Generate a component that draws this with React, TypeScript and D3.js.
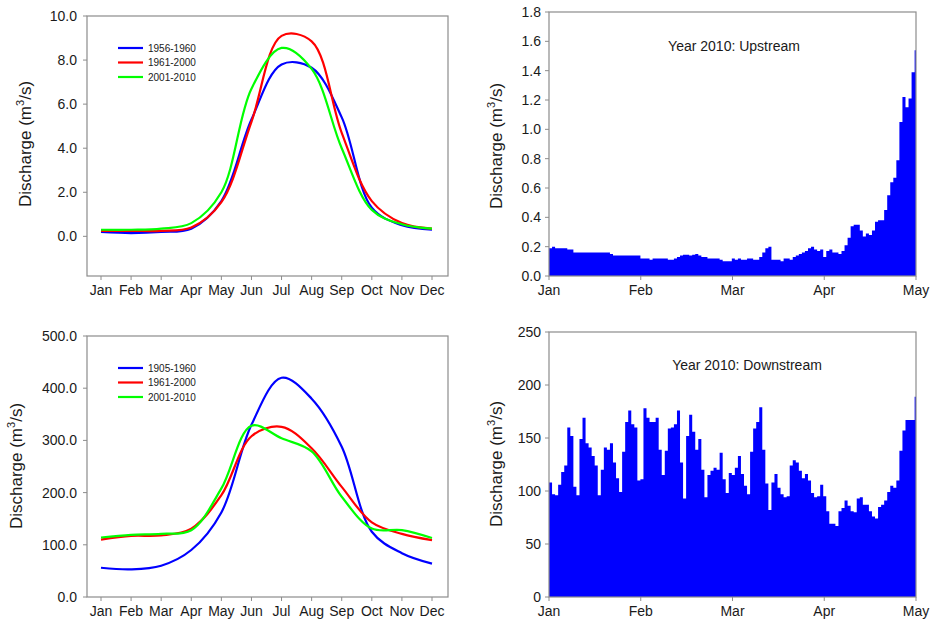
import React from "react";
import * as d3 from "d3";

// ---------- data ----------
const months = ["Jan", "Feb", "Mar", "Apr", "May", "Jun", "Jul", "Aug", "Sep", "Oct", "Nov", "Dec"];

const topSeriesNames = ["1956-1960", "1961-2000", "2001-2010"];
const top1956_1960 = [0.2, 0.15, 0.2, 0.35, 1.6, 5.3, 7.8, 7.65, 5.4, 1.3, 0.5, 0.3];
const top1961_2000 = [0.25, 0.25, 0.25, 0.4, 1.55, 5.2, 9.1, 8.85, 4.7, 1.6, 0.6, 0.35];
const top2001_2010 = [0.3, 0.3, 0.35, 0.6, 2.0, 6.7, 8.55, 7.6, 4.0, 1.2, 0.55, 0.35];
const topYTicks = [0, 2, 4, 6, 8, 10];

const botSeriesNames = ["1905-1960", "1961-2000", "2001-2010"];
const bot1905_1960 = [56, 53, 60, 90, 162, 330, 420, 380, 288, 125, 84, 64];
const bot1961_2000 = [110, 117, 118, 131, 195, 308, 326, 285, 211, 143, 121, 109];
const bot2001_2010 = [114, 119, 121, 128, 208, 328, 304, 279, 192, 131, 128, 113];
const botYTicks = [0, 100, 200, 300, 400, 500];

const dailyMonthTicks = ["Jan", "Feb", "Mar", "Apr", "May"];

const upstream2010 = [
  0.19, 0.2, 0.19, 0.19, 0.19, 0.19, 0.18, 0.18, 0.16, 0.16,
  0.16, 0.16, 0.16, 0.16, 0.16, 0.16, 0.16, 0.16, 0.16, 0.16,
  0.15, 0.14, 0.14, 0.14, 0.14, 0.14, 0.14, 0.14, 0.14, 0.14,
  0.12, 0.12, 0.12, 0.11, 0.12, 0.12, 0.12, 0.12, 0.12, 0.11,
  0.11, 0.12, 0.13, 0.14, 0.145, 0.145, 0.14, 0.145, 0.15, 0.14,
  0.13, 0.13, 0.12, 0.12, 0.12, 0.12, 0.11, 0.1, 0.1, 0.1,
  0.12, 0.11, 0.12, 0.11, 0.11, 0.12, 0.12, 0.11, 0.11, 0.13,
  0.16, 0.19, 0.2, 0.11, 0.11, 0.11, 0.1, 0.12, 0.12, 0.11,
  0.13, 0.14, 0.15, 0.16, 0.17, 0.19, 0.2, 0.18, 0.17, 0.18,
  0.13, 0.17, 0.18, 0.16, 0.16, 0.15, 0.17, 0.21, 0.26, 0.34,
  0.35, 0.35, 0.31, 0.27, 0.29, 0.28, 0.31, 0.37, 0.38, 0.38,
  0.45, 0.55, 0.64, 0.67, 0.79, 1.05, 1.22, 1.15, 1.21, 1.39,
  1.54,
];
const upYTicks = [0, 0.2, 0.4, 0.6, 0.8, 1.0, 1.2, 1.4, 1.6, 1.8];

const downstream2010 = [
  108, 97, 96, 106, 118, 124, 160, 152, 104, 96,
  149, 169, 145, 141, 133, 124, 96, 120, 141, 139,
  145, 127, 112, 99, 137, 165, 176, 163, 160, 110,
  111, 178, 169, 165, 165, 169, 139, 115, 138, 159,
  160, 163, 176, 127, 93, 152, 172, 156, 139, 149,
  120, 94, 115, 119, 122, 120, 136, 111, 98, 117,
  115, 122, 133, 116, 105, 97, 137, 159, 165, 179,
  139, 107, 82, 108, 116, 103, 97, 94, 95, 124,
  129, 127, 119, 112, 116, 110, 98, 94, 95, 106,
  95, 81, 69, 69, 67, 81, 84, 91, 86, 81,
  80, 93, 94, 87, 87, 81, 76, 74, 85, 87,
  91, 99, 105, 103, 110, 138, 157, 167, 167, 167,
  189,
];
const downYTicks = [0, 50, 100, 150, 200, 250];

const seriesColors = ["#0000FF", "#FF0000", "#00FF00"];

// ---------- layout ----------
const FONT = "'Liberation Sans', Arial, sans-serif";
const FRAME = "#8c8c8c";
const TEXT = "#1a1a1a";

function YLabel({ x, y }: { x: number; y: number }) {
  return (
    <text
      transform={`translate(${x},${y}) rotate(-90)`}
      textAnchor="middle"
      fontSize={17}
      fill={TEXT}
      fontFamily={FONT}
    >
      Discharge (m
      <tspan dy={-7} fontSize={11}>3</tspan>
      <tspan dy={7}>/s)</tspan>
    </text>
  );
}

type LineProps = {
  left: number; right: number; top: number; bottom: number;
  yDomain: [number, number]; yTicks: number[];
  series: number[][]; names: string[];
  legendTop: number; labelX: number; labelY: number;
};

function LinePanel(p: LineProps) {
  const x = d3.scaleLinear().domain([0, 11]).range([p.left + 14, p.right - 16]);
  const y = d3.scaleLinear().domain(p.yDomain).range([p.bottom, p.top]);
  const line = d3
    .line<number>()
    .x((_, i) => x(i))
    .y((d) => y(d))
    .curve(d3.curveCatmullRom.alpha(0.5));
  return (
    <g fontFamily={FONT}>
      {p.series.map((s, k) => (
        <path key={k} d={line(s) || ""} fill="none" stroke={seriesColors[k]} strokeWidth={2.2} />
      ))}
      <rect x={p.left} y={p.top} width={p.right - p.left} height={p.bottom - p.top} fill="none" stroke={FRAME} strokeWidth={1.2} />
      {p.yTicks.map((t) => (
        <g key={t}>
          <line x1={p.left - 4} x2={p.left} y1={y(t)} y2={y(t)} stroke={FRAME} />
          <text x={p.left - 10} y={y(t) + 5} textAnchor="end" fontSize={14} fill={TEXT}>
            {d3.format(".1f")(t)}
          </text>
        </g>
      ))}
      {months.map((m, i) => (
        <g key={m}>
          <line x1={x(i)} x2={x(i)} y1={p.bottom} y2={p.bottom + 4} stroke={FRAME} />
          <text x={x(i)} y={p.bottom + 19} textAnchor="middle" fontSize={14} fill={TEXT}>
            {m}
          </text>
        </g>
      ))}
      {p.names.map((n, k) => {
        const ly = p.legendTop + k * 14.5;
        return (
          <g key={n}>
            <line x1={p.left + 31} x2={p.left + 56} y1={ly} y2={ly} stroke={seriesColors[k]} strokeWidth={2.2} />
            <text x={p.left + 61} y={ly + 3.5} fontSize={10} fill={TEXT}>{n}</text>
          </g>
        );
      })}
      <YLabel x={p.labelX} y={p.labelY} />
    </g>
  );
}

type BarProps = {
  id: string;
  left: number; right: number; top: number; bottom: number;
  yDomain: [number, number]; yTicks: number[]; fmt: string;
  values: number[]; title: string; titleY: number; titleX: number;
  labelX: number; labelY: number;
};

function BarPanel(p: BarProps) {
  const n = p.values.length;
  const xd = d3.scaleLinear().domain([0, n - 0.55]).range([p.left, p.right]);
  const xm = d3.scaleLinear().domain([0, dailyMonthTicks.length - 1]).range([p.left, p.right]);
  const y = d3.scaleLinear().domain(p.yDomain).range([p.bottom, p.top]);
  const stepVals = [...p.values, p.values[n - 1]];
  const area = d3
    .area<number>()
    .x((_, i) => xd(i))
    .y0(y(0))
    .y1((d) => y(d))
    .curve(d3.curveStepAfter);
  return (
    <g fontFamily={FONT}>
      <defs>
        <clipPath id={p.id}>
          <rect x={p.left} y={p.top} width={p.right - p.left} height={p.bottom - p.top} />
        </clipPath>
      </defs>
      <g clipPath={`url(#${p.id})`}>
        <path d={area(stepVals) || ""} fill="#0000FF" />
      </g>
      <rect x={p.left} y={p.top} width={p.right - p.left} height={p.bottom - p.top} fill="none" stroke={FRAME} strokeWidth={1.2} />
      {p.yTicks.map((t) => (
        <g key={t}>
          <line x1={p.left - 4} x2={p.left} y1={y(t)} y2={y(t)} stroke={FRAME} />
          <text x={p.left - 8} y={y(t) + 5} textAnchor="end" fontSize={14} fill={TEXT}>
            {d3.format(p.fmt)(t)}
          </text>
        </g>
      ))}
      {dailyMonthTicks.map((m, i) => (
        <g key={m}>
          <line x1={xm(i)} x2={xm(i)} y1={p.bottom} y2={p.bottom + 4} stroke={FRAME} />
          <text x={xm(i)} y={p.bottom + 19} textAnchor="middle" fontSize={14} fill={TEXT}>
            {m}
          </text>
        </g>
      ))}
      <text x={p.titleX} y={p.titleY} textAnchor="middle" fontSize={14} fill={TEXT}>
        {p.title}
      </text>
      <YLabel x={p.labelX} y={p.labelY} />
    </g>
  );
}

export default function App() {
  return (
    <svg
      width={934}
      height={621}
      style={{ position: "absolute", left: 0, top: 0, background: "#fff" }}
    >
      <rect x={0} y={0} width={934} height={621} fill="#fff" />
      <LinePanel
        left={87} right={448} top={16} bottom={276}
        yDomain={[-1.8, 10]} yTicks={topYTicks}
        series={[top1956_1960, top1961_2000, top2001_2010]}
        names={topSeriesNames}
        legendTop={48} labelX={31} labelY={144}
      />
      <LinePanel
        left={87} right={448} top={336} bottom={597}
        yDomain={[0, 500]} yTicks={botYTicks}
        series={[bot1905_1960, bot1961_2000, bot2001_2010]}
        names={botSeriesNames}
        legendTop={368} labelX={22} labelY={466}
      />
      <BarPanel
        id="clipUp"
        left={549} right={916} top={12} bottom={276}
        yDomain={[0, 1.8]} yTicks={upYTicks} fmt=".1f"
        values={upstream2010}
        title="Year 2010: Upstream" titleX={734} titleY={51}
        labelX={502} labelY={146}
      />
      <BarPanel
        id="clipDown"
        left={549} right={916} top={332} bottom={597}
        yDomain={[0, 250]} yTicks={downYTicks} fmt="d"
        values={downstream2010}
        title="Year 2010: Downstream" titleX={747} titleY={370}
        labelX={502} labelY={464}
      />
    </svg>
  );
}
